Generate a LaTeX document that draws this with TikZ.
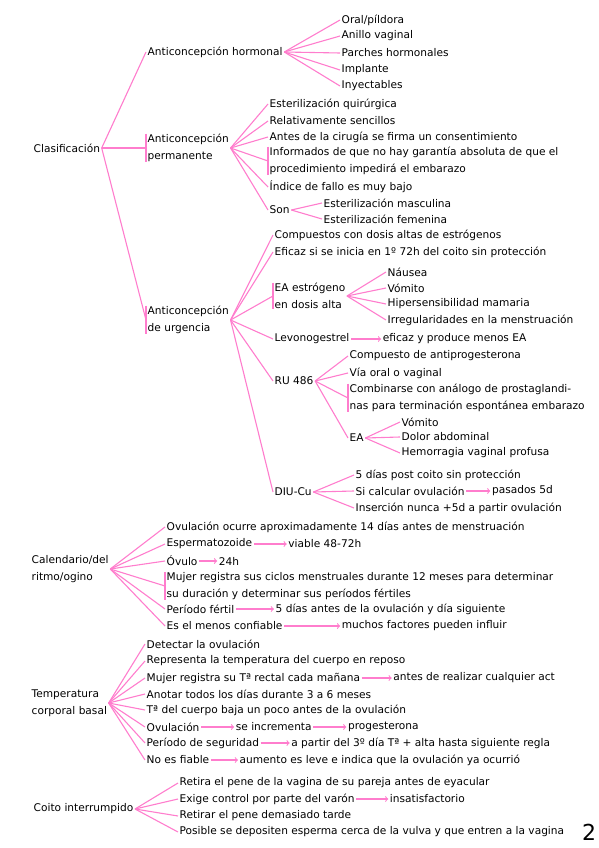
\documentclass[tikz,border=0pt]{standalone}
\usepackage{fontspec}
\setmainfont{DejaVu Sans}
\usepackage{tikz}
\usetikzlibrary{arrows,positioning}
\definecolor{rosa}{RGB}{255,125,205}

\begin{document}
\begin{tikzpicture}[x=1pt,y=-1pt,node distance=1cm,
                    every text node part/.style={align=left}]
  \tikzset{
    item/.style={anchor=west,inner xsep=1.5pt,inner ysep=0.5pt,
                 font=\fontsize{10.6}{16.5}\selectfont},
    rama/.style={draw=rosa,line width=1.1pt},
    flecha/.style={rama,->,>=to},
    barra/.style={rama}
  }
  \useasboundingbox (0,0) rectangle (599,848);

  % clasificacion
  \node[item] (clas) at (32,148) {Clasificación};
  \node[item] (horm) at (146,52) {Anticoncepción hormonal};
  \node[item] (oral) at (340,20) {Oral/píldora};
  \node[item] (anillo) at (340,36) {Anillo vaginal};
  \node[item] (parches) at (340,53) {Parches hormonales};
  \node[item] (implante) at (340,70) {Implante};
  \node[item] (inyect) at (340,86) {Inyectables};

  \node[item] (perm) at (146,148) {Anticoncepción\\permanente};
  \node[item] (esteriq) at (268,104) {Esterilización quirúrgica};
  \node[item] (relat) at (268,121) {Relativamente sencillos};
  \node[item] (antes) at (268,137) {Antes de la cirugía se firma un consentimiento};
  \node[item] (inform) at (268,161) {Informados de que no hay garantía absoluta de que el\\procedimiento impedirá el embarazo};
  \node[item] (indice) at (268,187) {Índice de fallo es muy bajo};
  \node[item] (son) at (268,210) {Son};
  \node[item] (esmasc) at (322,203) {Esterilización masculina};
  \node[item] (esfem) at (322,219) {Esterilización femenina};

  \node[item] (urg) at (146,320) {Anticoncepción\\de urgencia};
  \node[item] (compuestos) at (273,235) {Compuestos con dosis altas de estrógenos};
  \node[item] (eficaz) at (273,252) {Eficaz si se inicia en 1º 72h del coito sin protección};
  \node[item] (eaestr) at (273,296) {EA estrógeno\\en dosis alta};
  \node[item] (nausea) at (386,272) {Náusea};
  \node[item] (vomito) at (386,288) {Vómito};
  \node[item] (hiper) at (386,304) {Hipersensibilidad mamaria};
  \node[item] (irreg) at (386,320) {Irregularidades en la menstruación};
  \node[item] (levo) at (273,339) {Levonogestrel};
  \node[item] (levoef) [right=30pt of levo] {eficaz y produce menos EA};
  \node[item] (ru) at (273,381) {RU 486};
  \node[item] (antiprog) at (348,356) {Compuesto de antiprogesterona};
  \node[item] (via) at (348,373) {Vía oral o vaginal};
  \node[item] (combin) at (348,398) {Combinarse con análogo de prostaglandi-\\nas para terminación espontánea embarazo};
  \node[item] (ea) at (348,438) {EA};
  \node[item] (vomito2) at (400,422) {Vómito};
  \node[item] (dolor) at (400,437) {Dolor abdominal};
  \node[item] (hemorr) at (400,453) {Hemorragia vaginal profusa};
  \node[item] (diu) at (273,492) {DIU-Cu};
  \node[item] (cinco) at (354,475) {5 días post coito sin protección};
  \node[item] (sical) at (354,491) {Si calcular ovulación};
  \node[item] (pasados) [right=24pt of sical] {pasados 5d};
  \node[item] (insercion) at (354,508) {Inserción nunca +5d a partir ovulación};

  % calendario
  \node[item] (cal) at (30,569) {Calendario/del\\ritmo/ogino};
  \node[item] (ovul) at (165,527) {Ovulación ocurre aproximadamente 14 días antes de menstruación};
  \node[item] (esperm) at (165,544) {Espermatozoide};
  \node[item] (viable) [right=33pt of esperm] {viable 48-72h};
  \node[item] (ovulo) at (165,561) {Óvulo};
  \node[item] (hrs) [right=18pt of ovulo] {24h};
  \node[item] (mujer) at (165,586) {Mujer registra sus ciclos menstruales durante 12 meses para determinar\\su duración y determinar sus períodos fértiles};
  \node[item] (periodo) at (165,609) {Período fértil};
  \node[item] (cincodias) [right=38pt of periodo] {5 días antes de la ovulación y día siguiente};
  \node[item] (menos) at (165,626) {Es el menos confiable};
  \node[item] (muchos) [right=56pt of menos] {muchos factores pueden influir};

  % temperatura
  \node[item] (temp) at (30,703) {Temperatura\\corporal basal};
  \node[item] (detectar) at (145,644) {Detectar la ovulación};
  \node[item] (represent) at (145,661) {Representa la temperatura del cuerpo en reposo};
  \node[item] (mujert) at (145,678) {Mujer registra su Tª rectal cada mañana};
  \node[item] (antesact) [right=30pt of mujert] {antes de realizar cualquier act};
  \node[item] (anotar) at (145,694) {Anotar todos los días durante 3 a 6 meses};
  \node[item] (tbaja) at (145,710) {Tª del cuerpo baja un poco antes de la ovulación};
  \node[item] (ovul2) at (145,727) {Ovulación};
  \node[item] (incrementa) [right=33pt of ovul2] {se incrementa};
  \node[item] (progest) [right=33pt of incrementa] {progesterona};
  \node[item] (segur) at (145,743) {Período de seguridad};
  \node[item] (apartir) [right=29pt of segur] {a partir del 3º día Tª + alta hasta siguiente regla};
  \node[item] (nofiable) at (145,760) {No es fiable};
  \node[item] (aumento) [right=27pt of nofiable] {aumento es leve e indica que la ovulación ya ocurrió};

  % coito
  \node[item] (coito) at (32,809) {Coito interrumpido};
  \node[item] (retira) at (178,783) {Retira el pene de la vagina de su pareja antes de eyacular};
  \node[item] (exige) at (178,799) {Exige control por parte del varón};
  \node[item] (insatisf) [right=32pt of exige] {insatisfactorio};
  \node[item] (retirar) at (178,816) {Retirar el pene demasiado tarde};
  \node[item] (posible) at (178,832) {Posible se depositen esperma cerca de la vulva y que entren a la vagina};
  \node[anchor=west,inner sep=0pt,font=\fontsize{22}{22}\selectfont] (pagina) at (582,832) {2};

  % barras de los textos de dos lineas
  \foreach \n in {perm,inform,urg,eaestr,combin,mujer}
    \draw[barra] (\n.north west) -- (\n.south west);

  % ramas
  \path[rama] (clas.east) edge (horm.west)
                          edge (perm.west)
                          edge (urg.west)
        (horm.east) edge (oral.west)
                    edge (anillo.west)
                    edge (parches.west)
                    edge (implante.west)
                    edge (inyect.west)
        (perm.east) edge (esteriq.west)
                    edge (relat.west)
                    edge (antes.west)
                    edge (inform.west)
                    edge (indice.west)
                    edge (son.west)
        (son.east) edge (esmasc.west)
                   edge (esfem.west)
        (urg.east) edge (compuestos.west)
                   edge (eficaz.west)
                   edge (eaestr.west)
                   edge (levo.west)
                   edge (ru.west)
                   edge (diu.west)
        (eaestr.east) edge (nausea.west)
                      edge (vomito.west)
                      edge (hiper.west)
                      edge (irreg.west)
        (ru.east) edge (antiprog.west)
                  edge (via.west)
                  edge (combin.west)
                  edge (ea.west)
        (ea.east) edge (vomito2.west)
                  edge (dolor.west)
                  edge (hemorr.west)
        (diu.east) edge (cinco.west)
                   edge (sical.west)
                   edge (insercion.west)
        (cal.east) edge (ovul.west)
                   edge (esperm.west)
                   edge (ovulo.west)
                   edge (mujer.west)
                   edge (periodo.west)
                   edge (menos.west)
        (temp.east) edge (detectar.west)
                    edge (represent.west)
                    edge (mujert.west)
                    edge (anotar.west)
                    edge (tbaja.west)
                    edge (ovul2.west)
                    edge (segur.west)
                    edge (nofiable.west)
        (coito.east) edge (retira.west)
                     edge (exige.west)
                     edge (retirar.west)
                     edge (posible.west);

  % flechas
  \path[flecha] (levo) edge (levoef)
        (sical) edge (pasados)
        (esperm) edge (viable)
        (ovulo) edge (hrs)
        (periodo) edge (cincodias)
        (menos) edge (muchos)
        (mujert) edge (antesact)
        (ovul2) edge (incrementa)
        (incrementa) edge (progest)
        (segur) edge (apartir)
        (nofiable) edge (aumento)
        (exige) edge (insatisf);

\end{tikzpicture}
\end{document}
